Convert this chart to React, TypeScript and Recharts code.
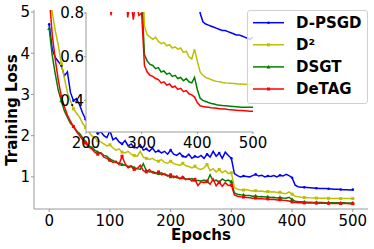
import React from "react";
import { LineChart, Line, XAxis, YAxis, CartesianGrid, Legend, Label } from "recharts";

// epochs sampled every 5
const epochs = [
  0, 5, 10, 15, 20, 25, 30, 35, 40, 45,
  50, 55, 60, 65, 70, 75, 80, 85, 90, 95,
  100, 105, 110, 115, 120, 125, 130, 135, 140, 145,
  150, 155, 160, 165, 170, 175, 180, 185, 190, 195,
  200, 205, 210, 215, 220, 225, 230, 235, 240, 245,
  250, 255, 260, 265, 270, 275, 280, 285, 290, 295,
  300, 305, 310, 315, 320, 325, 330, 335, 340, 345,
  350, 355, 360, 365, 370, 375, 380, 385, 390, 395,
  400, 405, 410, 415, 420, 425, 430, 435, 440, 445,
  450, 455, 460, 465, 470, 475, 480, 485, 490, 495,
  500,
];

const dpsgdLoss = [
  4.7, 4.1, 3.9, 3.8, 3.7, 3.45, 3.55, 3.05, 2.85, 2.9,
  2.75, 2.55, 2.4, 2.3, 2.25, 2.15, 2.05, 2.1, 2.0, 1.95,
  2.12, 1.9, 1.95, 1.85, 1.8, 1.88, 1.75, 1.8, 1.72, 1.7,
  1.78, 1.65, 1.68, 1.62, 1.7, 1.6, 1.63, 1.58, 1.62, 1.55,
  1.65, 1.55, 1.52, 1.58, 1.5, 1.48, 1.55, 1.45, 1.5, 1.47,
  1.52, 1.45, 1.55, 1.48, 1.62, 1.5, 1.58, 1.45, 1.6, 1.52,
  1.45, 1.08, 1.03, 1.0, 1.02, 1.01, 1.0, 1.03, 1.06, 1.02,
  1.04, 1.0, 1.02, 1.01, 1.03, 1.0, 1.04, 1.02, 1.06, 1.03,
  0.98, 0.8, 0.76, 0.75, 0.745, 0.74, 0.735, 0.73, 0.725, 0.72,
  0.72, 0.715, 0.71, 0.705, 0.7, 0.7, 0.695, 0.69, 0.685, 0.68,
  0.69,
];

const d2Loss = [
  5.6, 5.0, 4.55, 4.2, 3.75, 3.4, 3.05, 2.85, 2.65, 2.55,
  2.45, 2.3, 2.2, 2.1, 2.0, 1.95, 1.88, 1.85, 1.8, 1.75,
  1.78, 1.7, 1.65, 1.68, 1.6, 1.58, 1.62, 1.55, 1.52, 1.5,
  1.62, 1.48, 1.45, 1.42, 1.45, 1.4, 1.38, 1.42, 1.35, 1.33,
  1.38, 1.32, 1.3, 1.28, 1.33, 1.27, 1.25, 1.22, 1.26, 1.2,
  1.18, 1.22, 1.3, 1.15, 1.2, 1.12, 1.18, 1.1, 1.15, 1.08,
  1.1, 0.74, 0.7, 0.69, 0.68, 0.69, 0.67, 0.66, 0.665, 0.65,
  0.655, 0.64, 0.645, 0.635, 0.64, 0.62, 0.625, 0.6, 0.59, 0.635,
  0.58, 0.53, 0.515, 0.505, 0.5, 0.495, 0.49, 0.487, 0.485, 0.482,
  0.48, 0.479, 0.478, 0.477, 0.476, 0.475, 0.475, 0.474, 0.473, 0.473,
  0.473,
];

const dsgtLoss = [
  4.6, 3.95, 3.5, 3.1, 2.85, 2.6, 2.45, 2.3, 2.22, 2.12,
  2.05, 1.95, 1.85, 1.75, 1.72, 1.65, 1.6, 1.58, 1.52, 1.5,
  1.42, 1.4, 1.35, 1.33, 1.3, 1.28, 1.25, 1.27, 1.22, 1.2,
  1.18, 1.32, 1.15, 1.12, 1.13, 1.1, 1.08, 1.1, 1.05, 1.04,
  1.0, 1.02, 0.98, 0.97, 0.99, 0.95, 0.94, 0.96, 0.92, 0.91,
  0.9, 0.92, 0.88, 1.05, 0.9, 0.92, 0.87, 0.95, 0.9, 0.92,
  0.88, 0.61, 0.58, 0.565, 0.56, 0.545, 0.55, 0.53, 0.535, 0.52,
  0.525, 0.51, 0.515, 0.5, 0.505, 0.49, 0.5, 0.485, 0.48, 0.505,
  0.45, 0.41, 0.4, 0.395, 0.39, 0.386, 0.383, 0.38, 0.378, 0.376,
  0.375, 0.374, 0.373, 0.372, 0.371, 0.37, 0.369, 0.369, 0.368, 0.368,
  0.368,
];

const detagLoss = [
  5.4, 4.45, 3.85, 3.35, 2.95, 2.7, 2.5, 2.35, 2.22, 2.1,
  2.0, 1.9, 1.82, 1.72, 1.68, 1.6, 1.55, 1.58, 1.48, 1.45,
  1.4, 1.35, 1.38, 1.3, 1.5, 1.32, 1.22, 1.25, 1.18, 1.2,
  1.28, 1.15, 1.12, 1.18, 1.1, 1.08, 1.12, 1.05, 1.08, 1.02,
  1.05, 0.98, 1.02, 0.95, 0.98, 0.93, 0.96, 0.9, 0.94, 0.79,
  0.88, 0.86, 0.9, 0.82, 0.95, 0.78, 0.87, 0.77, 0.86, 0.79,
  0.8, 0.56, 0.53, 0.515, 0.51, 0.5, 0.495, 0.48, 0.485, 0.47,
  0.475, 0.46, 0.465, 0.45, 0.455, 0.44, 0.445, 0.43, 0.425, 0.415,
  0.39, 0.375, 0.372, 0.37, 0.368, 0.366, 0.365, 0.364, 0.362, 0.36,
  0.36, 0.358, 0.357, 0.356, 0.355, 0.354, 0.353, 0.352, 0.351, 0.35,
  0.35,
];

const mainXTicks = [0, 100, 200, 300, 400, 500];
const mainYTicks = [1, 2, 3, 4, 5];
const insetXTicks = [200, 300, 400, 500];
const insetYTicks = [0.4, 0.6, 0.8];

const series = [
  { key: "dpsgd", name: "D-PSGD", color: "#0000ff", marker: "dot", values: dpsgdLoss },
  { key: "d2", name: "D²", color: "#bfbf00", marker: "square", values: d2Loss },
  { key: "dsgt", name: "DSGT", color: "#008000", marker: "triangle", values: dsgtLoss },
  { key: "detag", name: "DeTAG", color: "#ff0000", marker: "square", values: detagLoss },
];

const rows = epochs.map((epoch, i) => {
  const row: any = { epoch };
  series.forEach((s) => (row[s.key] = s.values[i]));
  return row;
});

const FONT = "DejaVu Sans";
const AXIS = "#9a9a9a";

function marker(kind: string, x: number, y: number, color: string, key?: string) {
  if (kind === "dot") return <circle key={key} cx={x} cy={y} r={1.3} fill={color} />;
  if (kind === "triangle")
    return (
      <polygon key={key} points={`${x},${y - 2.2} ${x - 2},${y + 1.5} ${x + 2},${y + 1.5}`} fill={color} />
    );
  return <rect key={key} x={x - 1.5} y={y - 1.5} width={3} height={3} fill={color} />;
}

const makeDot = (kind: string, color: string) => (props: any) => {
  const { cx, cy, index } = props;
  if (index % 4 !== 0 || cx == null || cy == null) return <g key={`n-${index}`} />;
  return marker(kind, cx, cy, color, `m-${index}`);
};

const XTick = ({ x, y, payload }: any) => (
  <text x={x} y={y + 11.5} textAnchor="middle" fontSize={15} fontFamily={FONT} fill="#000">
    {payload.value}
  </text>
);

const YTick = ({ x, y, payload }: any) => (
  <text x={x} y={y + 5.3} textAnchor="end" fontSize={15} fontFamily={FONT} fill="#000">
    {payload.value}
  </text>
);

// legend drawn in series order, same look as the matplotlib box
const LegendBox = () => (
  <svg width={121} height={94} style={{ display: "block" }}>
    <rect x={0.5} y={0.5} width={120} height={93} rx={2.5} fill="#fff" fillOpacity={0.8} stroke="#d0d0d0" />
    {series.map((s, i) => {
      const cy = 12.7 + i * 22.1;
      return (
        <g key={s.key}>
          <line x1={6} x2={37} y1={cy} y2={cy} stroke={s.color} strokeWidth={1.5} />
          {marker(s.marker, 21.5, cy, s.color)}
          <text x={49} y={cy + 5.4} fontSize={15} fontWeight="bold" fontFamily={FONT} fill="#000">
            {s.name}
          </text>
        </g>
      );
    })}
  </svg>
);

export default function App() {
  return (
    <div style={{ position: "absolute", left: 0, top: 0, width: 374, height: 249, background: "#fff" }}>
      <div style={{ position: "absolute", left: 0, top: 0 }}>
        <LineChart width={374} height={249} data={rows} margin={{ top: 10, right: 6, bottom: 0, left: 8 }}>
          <XAxis
            dataKey="epoch"
            type="number"
            domain={[-25, 525]}
            ticks={mainXTicks}
            height={40}
            tickSize={3}
            tickMargin={2}
            stroke={AXIS}
            tick={<XTick />}
            allowDataOverflow
          >
            <Label
              content={({ viewBox }: any) => (
                <text
                  x={viewBox ? viewBox.x + viewBox.width / 2 : 201}
                  y={240}
                  textAnchor="middle"
                  fontSize={15}
                  fontWeight="bold"
                  fontFamily={FONT}
                  fill="#000"
                >
                  Epochs
                </text>
              )}
            />
          </XAxis>
          <YAxis
            type="number"
            domain={[0.22, 5.05]}
            ticks={mainYTicks}
            width={26}
            tickSize={3}
            tickMargin={1}
            stroke={AXIS}
            tick={<YTick />}
            allowDataOverflow
          >
            <Label
              content={() => (
                <text
                  x={17}
                  y={110}
                  transform="rotate(-90 17 110)"
                  textAnchor="middle"
                  fontSize={15}
                  fontWeight="bold"
                  fontFamily={FONT}
                  fill="#000"
                >
                  Training Loss
                </text>
              )}
            />
          </YAxis>
          <XAxis xAxisId="top" orientation="top" type="number" domain={[-25, 525]} height={0} tick={false} tickLine={false} stroke={AXIS} />
          <YAxis yAxisId="right" orientation="right" type="number" domain={[0.22, 5.05]} width={0} tick={false} tickLine={false} stroke={AXIS} />
          {series.map((s) => (
            <Line
              key={s.key}
              type="linear"
              dataKey={s.key}
              name={s.name}
              stroke={s.color}
              strokeWidth={1.5}
              dot={makeDot(s.marker, s.color)}
              activeDot={false}
              isAnimationActive={false}
            />
          ))}
          <Legend
            layout="vertical"
            align="center"
            verticalAlign="middle"
            content={<LegendBox />}
            wrapperStyle={{ position: "absolute", left: 247, top: 10, width: 121, height: 94, zIndex: 2 }}
          />
        </LineChart>
      </div>
      <div style={{ position: "absolute", left: 0, top: 0, zIndex: 1 }}>
        <LineChart width={280} height={150} data={rows} margin={{ top: 12, right: 27, bottom: 0, left: 0 }}>
          <CartesianGrid horizontal={false} vertical={false} fill="#fff" fillOpacity={1} stroke="none" />
          <XAxis
            dataKey="epoch"
            type="number"
            domain={[200, 500]}
            ticks={insetXTicks}
            height={18}
            tickSize={2}
            tickMargin={2}
            stroke={AXIS}
            tick={<XTick />}
            allowDataOverflow
          />
          <YAxis
            type="number"
            domain={[0.255, 0.805]}
            ticks={insetYTicks}
            width={86}
            tickSize={2}
            tickMargin={0}
            stroke={AXIS}
            tick={<YTick />}
            allowDataOverflow
          />
          <XAxis xAxisId="top" orientation="top" type="number" domain={[200, 500]} height={0} tick={false} tickLine={false} stroke={AXIS} />
          <YAxis yAxisId="right" orientation="right" type="number" domain={[0.255, 0.805]} width={0} tick={false} tickLine={false} stroke={AXIS} />
          {series.map((s) => (
            <Line
              key={s.key}
              type="linear"
              dataKey={s.key}
              name={s.name}
              stroke={s.color}
              strokeWidth={1.5}
              dot={false}
              activeDot={false}
              isAnimationActive={false}
            />
          ))}
        </LineChart>
      </div>
    </div>
  );
}
